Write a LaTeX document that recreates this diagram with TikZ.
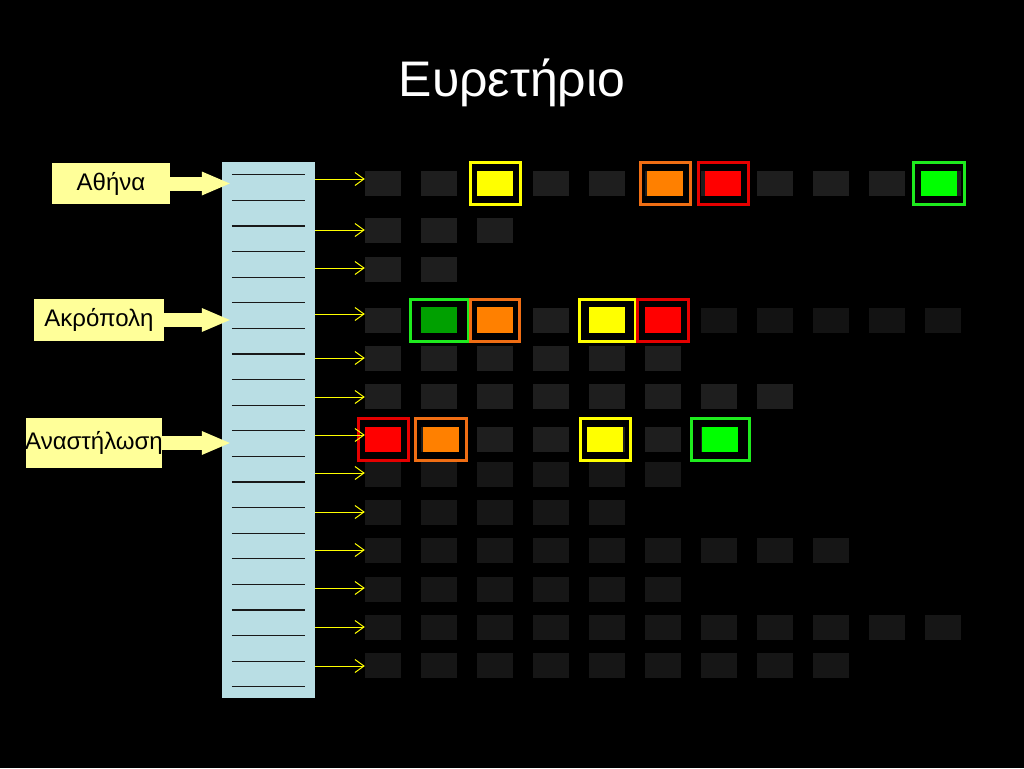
\documentclass[tikz,border=0pt]{standalone}
\usepackage{fontspec}
\setmainfont{Liberation Sans}
\usetikzlibrary{positioning,arrows.meta}
\definecolor{idxblue}{RGB}{185,222,228}
\definecolor{tagyellow}{RGB}{255,255,153}
\definecolor{cellgray}{RGB}{30,30,30}
\definecolor{celllow}{RGB}{22,22,22}
\definecolor{celldim}{RGB}{19,19,19}
\definecolor{hiyellow}{RGB}{255,255,0}
\definecolor{hiorange}{RGB}{255,128,0}
\definecolor{frameorange}{RGB}{240,110,20}
\definecolor{hired}{RGB}{255,0,0}
\definecolor{framered}{RGB}{230,0,0}
\definecolor{higreen}{RGB}{0,255,0}
\definecolor{framegreen}{RGB}{30,235,30}
\definecolor{darkgreen}{RGB}{0,160,0}
\tikzset{
  cell/.style={minimum width=36pt, minimum height=25pt, inner sep=0pt},
  hit/.style={draw=#1, line width=3pt, minimum height=42pt, inner sep=0pt},
  tag/.style={fill=tagyellow, text=black, inner sep=0pt, font=\fontsize{24}{28}\selectfont},
  ptr/.style={draw=hiyellow, line width=1pt, -{Straight Barb[length=9pt,width=13pt]}},
  bigarrow/.style={draw=tagyellow, line width=14pt, -{Triangle[length=28pt,width=24pt,line width=0pt]}},
  rule/.style={draw=black!90, line width=1.3pt}
}
\begin{document}
\begin{tikzpicture}[x=1pt,y=-1pt]
  \fill[black] (0,0) rectangle (1024,768);
  \node[text=white, font=\fontsize{50}{60}\selectfont, anchor=base] (ttl) at (512,96) {Ευρετήριο};
  % index column
  \node[fill=idxblue, minimum width=93pt, minimum height=536pt, inner sep=0pt] (idx) at (268.5,430) {};
  \foreach \k in {0,...,20}
    \draw[rule] ([xshift=10pt,yshift={-(13+25.6*\k)*1pt}]idx.north west) -- ++(73,0);
  % lists
  \foreach \r/\y/\n/\g/\d in {1/183.5/11/cellgray/99, 2/230/3/cellgray/99, 3/269/2/cellgray/99,
      4/320/11/cellgray/6, 5/358.5/6/cellgray/99, 6/396/8/cellgray/99, 7/439.5/7/cellgray/99,
      8/474/6/celllow/99, 9/512/5/celllow/99, 10/550/9/celllow/99, 11/589/6/celllow/99,
      12/627/11/celllow/99, 13/665/9/celllow/99}{
    \pgfmathtruncatemacro\last{\n-1}
    \foreach \c in {0,...,\last}{
      \ifnum\c<\d \def\tone{\g}\else\def\tone{celldim}\fi
      \node[cell, fill=\tone] (r\r-\c) at ({383+56*\c},\y) {};
    }
  }
  % hits
  \foreach \cell/\fg/\fr/\w/\dx [count=\i] in {1-2/hiyellow/hiyellow/50/0, 1-5/hiorange/frameorange/50/2,
      1-6/hired/framered/50/4, 1-10/higreen/framegreen/51/-4, 4-1/darkgreen/framegreen/58/0,
      4-2/hiorange/frameorange/49/0, 4-4/hiyellow/hiyellow/56/0, 4-5/hired/framered/51/0,
      7-0/hired/framered/50/0, 7-1/hiorange/frameorange/51/2, 7-4/hiyellow/hiyellow/50/-2,
      7-6/higreen/framegreen/58/1}{
    \fill[\fg] ([xshift=\dx pt]r\cell.south west) rectangle ([xshift=\dx pt]r\cell.north east);
    \node[hit=\fr, minimum width=\w pt, xshift=\dx pt] (hl\i) at (r\cell) {};
  }
  \foreach \r/\a in {1/179, 2/230, 3/268, 4/314, 5/358, 6/397, 7/435, 8/473, 9/512, 10/550,
      11/588, 12/627, 13/666}
    \draw[ptr] (idx.east |- 0,\a) -- (r\r-0.west |- 0,\a);
  % words
  \node[tag, minimum width=118pt, minimum height=41pt] (athina) at (111,183.5) {Αθήνα};
  \node[tag, minimum width=130pt, minimum height=42pt] (akropoli) at (99,320) {Ακρόπολη};
  \node[tag, minimum width=136pt, minimum height=50pt] (anastilosi) at (94,443) {\makebox[0pt]{Αναστήλωση}};
  \draw[bigarrow] (athina.east) -- ([xshift=8pt]athina.east -| idx.west);
  \draw[bigarrow] (akropoli.east) -- ([xshift=8pt]akropoli.east -| idx.west);
  \draw[bigarrow] (anastilosi.east) -- ([xshift=8pt]anastilosi.east -| idx.west);
\end{tikzpicture}
\end{document}
